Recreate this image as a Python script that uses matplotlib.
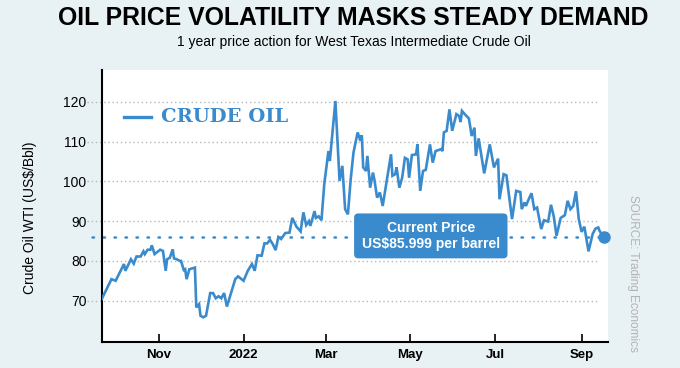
import matplotlib
matplotlib.use("Agg")
import matplotlib.pyplot as plt
import pandas as pd

# WTI crude daily closes
dates = [
    "2021-09-21", "2021-09-28", "2021-10-01", "2021-10-07", "2021-10-08", "2021-10-12",
    "2021-10-14", "2021-10-16", "2021-10-19", "2021-10-21", "2021-10-22", "2021-10-24",
    "2021-10-26", "2021-10-27", "2021-10-29", "2021-11-02", "2021-11-04", "2021-11-06",
    "2021-11-07", "2021-11-09", "2021-11-11", "2021-11-12", "2021-11-14", "2021-11-16",
    "2021-11-17", "2021-11-19", "2021-11-20", "2021-11-21", "2021-11-23", "2021-11-27",
    "2021-11-28", "2021-11-30", "2021-12-01", "2021-12-03", "2021-12-05", "2021-12-08",
    "2021-12-10", "2021-12-12", "2021-12-14", "2021-12-16", "2021-12-18", "2021-12-20",
    "2021-12-26", "2021-12-28", "2022-01-01", "2022-01-04", "2022-01-07", "2022-01-09",
    "2022-01-11", "2022-01-14", "2022-01-16", "2022-01-18", "2022-01-20", "2022-01-22",
    "2022-01-24", "2022-01-26", "2022-01-28", "2022-01-31", "2022-02-03", "2022-02-05",
    "2022-02-08", "2022-02-11", "2022-02-13", "2022-02-15", "2022-02-17", "2022-02-18",
    "2022-02-21", "2022-02-22", "2022-02-24", "2022-02-26", "2022-02-28", "2022-03-03",
    "2022-03-04", "2022-03-08", "2022-03-11", "2022-03-13", "2022-03-15", "2022-03-17",
    "2022-03-19", "2022-03-21", "2022-03-24", "2022-03-26", "2022-03-27", "2022-03-28",
    "2022-03-30", "2022-03-31", "2022-04-02", "2022-04-04", "2022-04-05", "2022-04-07",
    "2022-04-09", "2022-04-11", "2022-04-17", "2022-04-18", "2022-04-20", "2022-04-21",
    "2022-04-23", "2022-04-25", "2022-04-27", "2022-04-29", "2022-04-30", "2022-05-02",
    "2022-05-05", "2022-05-06", "2022-05-08", "2022-05-10", "2022-05-12", "2022-05-15",
    "2022-05-17", "2022-05-19", "2022-05-23", "2022-05-24", "2022-05-25", "2022-05-27",
    "2022-05-29", "2022-05-31", "2022-06-03", "2022-06-05", "2022-06-06", "2022-06-07",
    "2022-06-09", "2022-06-12", "2022-06-14", "2022-06-16", "2022-06-17", "2022-06-19",
    "2022-06-23", "2022-06-27", "2022-06-30", "2022-07-03", "2022-07-04", "2022-07-07",
    "2022-07-09", "2022-07-13", "2022-07-16", "2022-07-19", "2022-07-20", "2022-07-22",
    "2022-07-23", "2022-07-25", "2022-07-27", "2022-07-29", "2022-07-31", "2022-08-03",
    "2022-08-05", "2022-08-08", "2022-08-10", "2022-08-12", "2022-08-14", "2022-08-17",
    "2022-08-20", "2022-08-22", "2022-08-24", "2022-08-26", "2022-08-28", "2022-08-30",
    "2022-09-01", "2022-09-03", "2022-09-04", "2022-09-06", "2022-09-09", "2022-09-11",
    "2022-09-13", "2022-09-14", "2022-09-17",
]
prices = [
    70.4, 75.4, 75.0, 79.2, 77.5, 80.4,
    79.3, 81.1, 81.1, 82.4, 81.7, 82.8,
    82.8, 83.9, 81.7, 82.8, 82.5, 77.5,
    80.4, 80.8, 82.9, 80.6, 80.4, 80.0,
    80.0, 77.7, 77.9, 75.4, 77.9, 78.3,
    68.3, 69.1, 66.2, 65.8, 66.2, 71.9,
    71.9, 70.6, 71.1, 70.6, 71.9, 68.5,
    75.4, 76.1, 75.0, 77.5, 79.2, 77.5,
    81.4, 81.3, 84.4, 84.4, 85.3, 84.2,
    82.7, 86.0, 85.5, 87.0, 87.1, 90.8,
    88.6, 87.4, 92.2, 89.0, 90.0, 88.8,
    92.5, 90.8, 91.2, 90.2, 99.3, 107.6,
    105.1, 120.2, 100.1, 103.9, 93.0, 91.7,
    100.5, 107.2, 112.3, 110.2, 111.6, 103.5,
    102.6, 106.4, 98.4, 102.2, 100.5, 95.9,
    97.2, 93.8, 106.8, 101.4, 101.8, 103.5,
    98.4, 100.9, 105.9, 105.5, 100.9, 106.6,
    106.8, 109.3, 97.6, 102.6, 102.9, 109.3,
    104.7, 107.6, 108.1, 107.6, 112.3, 112.7,
    118.1, 112.7, 116.9, 116.4, 114.9, 117.7,
    116.9, 115.8, 111.4, 113.5, 106.4, 110.8,
    102.0, 109.3, 103.5, 105.7, 95.5, 101.8,
    101.5, 90.5, 97.6, 97.3, 93.0, 94.7,
    93.8, 95.5, 97.0, 93.0, 93.4, 88.0,
    90.2, 89.9, 94.1, 91.2, 86.3, 90.8,
    91.5, 95.1, 93.0, 93.8, 97.5, 90.5,
    87.3, 88.6, 86.5, 82.4, 86.8, 88.1,
    88.4, 87.5, 86.0,
]

current_price = 85.999
y_ticks = [70, 80, 90, 100, 110, 120]
tick_dates = ["2021-11-01", "2022-01-01", "2022-03-01", "2022-05-01", "2022-07-01", "2022-09-01"]
tick_labels = ["Nov", "2022", "Mar", "May", "Jul", "Sep"]

BLUE = "#3a8bcd"
BG = "#e8f1f4"

plt.rcParams["font.family"] = ["Liberation Sans", "DejaVu Sans"]

x = pd.to_datetime(dates)

fig = plt.figure(figsize=(6.8, 3.68), dpi=100, facecolor=BG)
ax = fig.add_axes([0.1496, 0.0707, 0.7445, 0.7391])
ax.set_facecolor("white")

# dotted grid, poking out left of the spine like tick marks
for yv in y_ticks:
    ax.plot([-0.03, 0.98], [yv, yv], transform=ax.get_yaxis_transform(),
            color="#b8b8b8", lw=1.0, linestyle=(0, (1, 2)), clip_on=False, zorder=1)

# current price reference line
ax.axhline(current_price, xmin=-0.02, xmax=0.99, color=BLUE, lw=1.8,
           linestyle=(0, (0.6, 3.8)), dash_capstyle="round", clip_on=False, zorder=2)

ax.plot(x, prices, color=BLUE, lw=1.9, zorder=3, solid_joinstyle="miter")
ax.plot(x[-1], prices[-1], "o", color=BLUE, ms=8, clip_on=False, zorder=4)

ax.set_xlim(pd.Timestamp("2021-09-21"), pd.Timestamp("2022-09-20"))
ax.set_ylim(59.6, 128)

ax.set_xticks(pd.to_datetime(tick_dates))
ax.set_xticklabels(tick_labels, fontweight="bold", fontsize=9.5)
ax.tick_params(axis="x", direction="in", length=6, width=1.2, pad=5, colors="black")
ax.set_yticks(y_ticks)
ax.set_yticklabels([str(v) for v in y_ticks], fontsize=10)
ax.tick_params(axis="y", length=0, pad=11)

for s in ["top", "right"]:
    ax.spines[s].set_visible(False)
ax.spines["left"].set_linewidth(1.5)
ax.spines["bottom"].set_linewidth(1.5)

# legend-like label
ax.plot([0.044, 0.097], [0.827, 0.827], transform=ax.transAxes, color=BLUE, lw=2.4)
ax.text(0.117, 0.827, "CRUDE OIL", transform=ax.transAxes, color=BLUE,
        fontsize=14, fontweight="bold", family="DejaVu Serif", va="center")

ax.text(0.65, 0.39, "Current Price\nUS$85.999 per barrel", transform=ax.transAxes,
        ha="center", va="center", color="white", fontsize=10, fontweight="bold",
        linespacing=1.15, zorder=5,
        bbox=dict(boxstyle="round,pad=0.55,rounding_size=0.3", fc=BLUE, ec="none"))

fig.text(0.519, 0.952, "OIL PRICE VOLATILITY MASKS STEADY DEMAND", ha="center", va="center",
         fontsize=17.8, fontweight="bold")
fig.text(0.52, 0.886, "1 year price action for West Texas Intermediate Crude Oil",
         ha="center", va="center", fontsize=10)
fig.text(0.044, 0.408, "Crude Oil WTI (US$/Bbl)", rotation=90, ha="center", va="center",
         fontsize=10)
fig.text(0.931, 0.258, "SOURCE: Trading Economics", rotation=270, ha="center", va="center",
         fontsize=8.5, color="#b3b3b3")

fig.savefig("out.png", dpi=100, facecolor=BG)
